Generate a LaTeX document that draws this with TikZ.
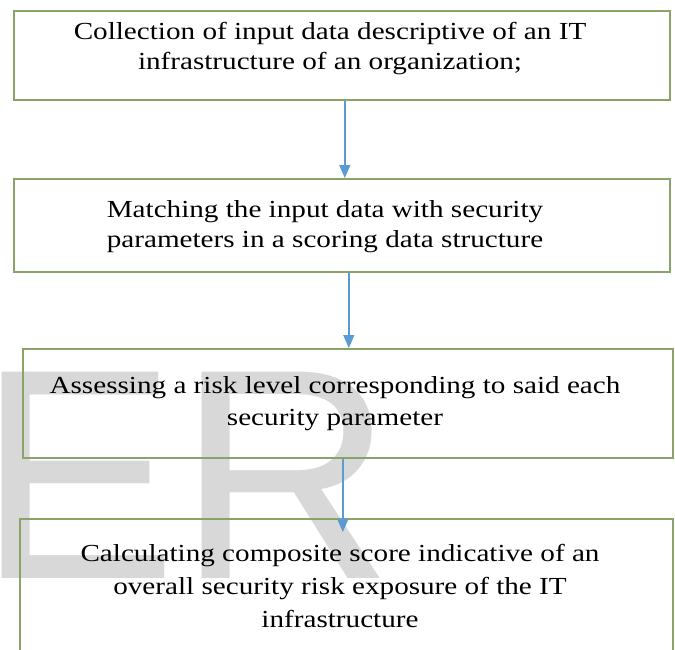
\documentclass[tikz,border=0pt]{standalone}
\usepackage{fontspec}
\setmainfont{Liberation Serif}
\newfontfamily\markfont{Liberation Sans}
\usetikzlibrary{arrows.meta}
\definecolor{boxgreen}{RGB}{137,164,104}
\definecolor{flowblue}{RGB}{91,155,213}
\definecolor{markgray}{RGB}{216,216,216}
\tikzset{
  stepbox/.style={draw=boxgreen, line width=1.6pt, rectangle, inner sep=0pt, anchor=north west},
  steptext/.style={align=center, inner sep=0pt, xscale=1.19, transform shape,
    font=\fontsize{24.5}{30.5}\selectfont},
  flow/.style={draw=flowblue, line width=1.4pt, -{Triangle[width=11pt,length=13pt]}}
}
\begin{document}
\begin{tikzpicture}[x=1pt,y=-1pt]
  \useasboundingbox (0,0) rectangle (675,649);
  \fill[white] (0,0) rectangle (675,649);
  % faint lettering in the background
  \node[anchor=base west, inner sep=0pt, text=markgray,
        font=\markfont\fontsize{300}{300}\selectfont] (mark) at (-23,578) {ER};
  % step boxes
  \node[stepbox, minimum width=656pt, minimum height=89pt]  (b1) at (13,10)  {};
  \node[stepbox, minimum width=656pt, minimum height=93pt]  (b2) at (13,178) {};
  \node[stepbox, minimum width=650pt, minimum height=109pt] (b3) at (22,348) {};
  \node[stepbox, minimum width=653pt, minimum height=140pt] (b4) at (19,518) {};
  % step texts
  \node[steptext] (t1) at (330,48.5) {Collection of input data descriptive of an IT\\infrastructure of an organization;};
  \node[steptext] (t2) at (325,226.5) {Matching the input data with security\\parameters in a scoring data structure};
  \node[steptext, font=\fontsize{24.5}{32}\selectfont] (t3) at (335,403.5) {Assessing a risk level corresponding to said each\\security parameter};
  \node[steptext, font=\fontsize{24.5}{33}\selectfont] (t4) at (340,585.5) {Calculating composite score indicative of an\\overall security risk exposure of the IT\\infrastructure};
  % connectors
  \draw[flow] ([xshift=3pt]b1.south) -- ([xshift=3pt]b2.north);
  \draw[flow] ([xshift=7pt]b2.south) -- ([xshift=1pt]b3.north);
  \draw[flow] ([xshift=-5pt]b3.south) -- ([xshift=-3.5pt,yshift=-14pt]b4.north);
\end{tikzpicture}
\end{document}
